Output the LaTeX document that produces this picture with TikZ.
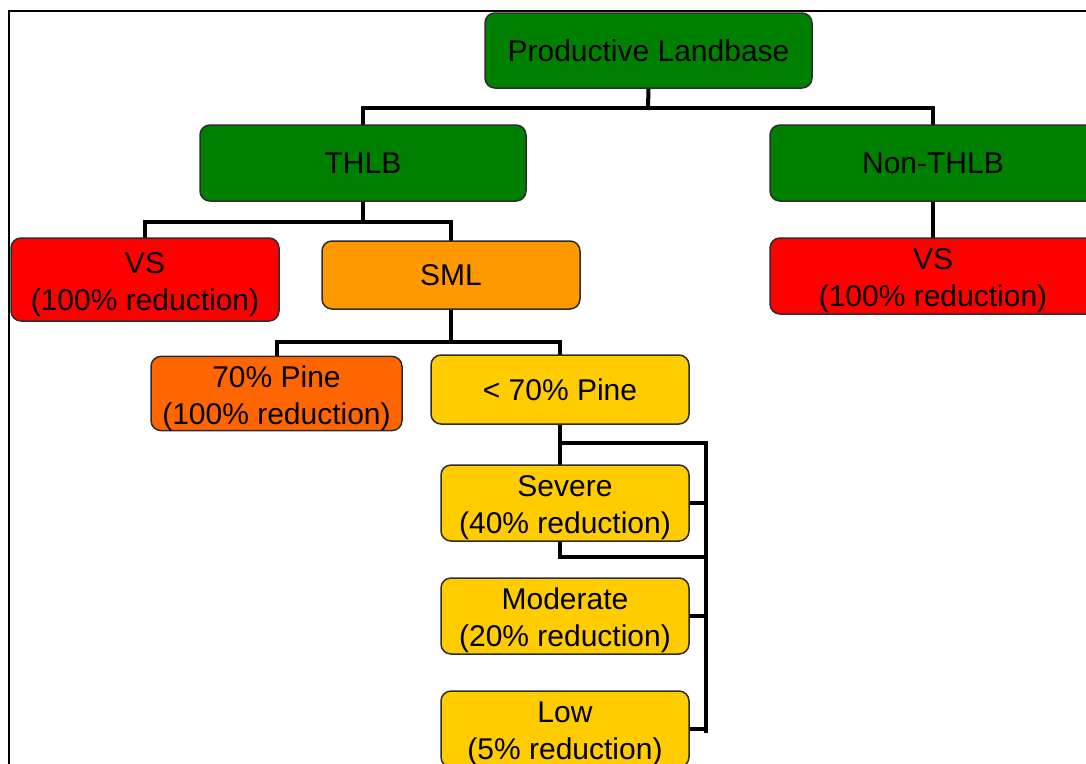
\documentclass[tikz,border=0pt]{standalone}
\usepackage{fontspec}
\setmainfont{Liberation Sans}
\usetikzlibrary{backgrounds}
\definecolor{lgreen}{RGB}{0,128,0}
\definecolor{lred}{RGB}{255,0,0}
\definecolor{lorange}{RGB}{255,153,0}
\definecolor{ldorange}{RGB}{255,102,0}
\definecolor{lyellow}{RGB}{255,204,0}
\definecolor{boxline}{RGB}{45,45,45}
\newcommand{\myfirststrut}{\rule{0pt}{31pt}}
\begin{document}
\begin{tikzpicture}[x=1pt,y=-1pt,
  box/.style={draw=boxline, line width=1.5pt, rounded corners=10pt, inner sep=0pt,
    align=center, font=\fontsize{30}{37}\selectfont},
  conn/.style={line width=4pt, line cap=rect, line join=miter}]
\useasboundingbox (0,0) rectangle (1086,763);
\begin{scope}
\clip (0,0) rectangle (1086,763);
\draw[line width=2pt] (9,780) -- (9,11) -- (1100,11);

\node[box, fill=lgreen, minimum width=327pt, minimum height=75pt] (root) at (648.5,50.5) {Productive Landbase};
\node[box, fill=lgreen, minimum width=326pt, minimum height=76pt] (thlb) at (363,163) {THLB};
\node[box, fill=lgreen, minimum width=326pt, minimum height=76pt] (nthlb) at (933,163) {Non-THLB};
\node[box, fill=lred, minimum width=268pt, minimum height=83pt] (vsl) at (145,279.5) {\myfirststrut VS\\(100\% reduction)};
\node[box, fill=lorange, minimum width=258pt, minimum height=68pt] (sml) at (451,275) {SML};
\node[box, fill=lred, minimum width=326pt, minimum height=76pt] (vsr) at (933,276) {\myfirststrut VS\\(100\% reduction)};
\node[box, fill=ldorange, minimum width=251pt, minimum height=73pt] (p70) at (276.5,393.5) {\myfirststrut 70\% Pine\\(100\% reduction)};
\node[box, fill=lyellow, minimum width=258pt, minimum height=69pt] (pl70) at (560,389.5) {< 70\% Pine};
\node[box, fill=lyellow, minimum width=248pt, minimum height=76pt] (sev) at (565,503) {\myfirststrut Severe\\(40\% reduction)};
\node[box, fill=lyellow, minimum width=248pt, minimum height=76pt] (mod) at (565,616) {\myfirststrut Moderate\\(20\% reduction)};
\node[box, fill=lyellow, minimum width=248pt, minimum height=76pt] (low) at (565,729) {\myfirststrut Low\\(5\% reduction)};

\begin{pgfonlayer}{background}
\coordinate (j1) at (648,108);
\coordinate (j2) at (363,222);
\coordinate (j3) at (451,342);
\coordinate (bt) at (706,443);
\coordinate (bm) at (706,557);
\coordinate (bb) at (706,731);
\draw[conn] (root.south) -- (j1);
\draw[conn] (j1) -| (thlb.north);
\draw[conn] (j1) -| (nthlb.north);
\draw[conn] (thlb.south) -- (j2);
\draw[conn] (j2) -| (vsl.north);
\draw[conn] (j2) -| (sml.north);
\draw[conn] (nthlb.south) -- (vsr.north);
\draw[conn] (sml.south) -- (j3);
\draw[conn] (j3) -| (p70.north);
\draw[conn] (j3) -| (pl70.north);
\draw[conn] (pl70.south) |- (bt) -- (bb);
\draw[conn] (pl70.south) -- (pl70.south |- sev.north);
\draw[conn] (sev.east) -- (sev.east -| bt);
\draw[conn] (pl70.south |- sev.south) |- (bm);
\draw[conn] (mod.east) -- (mod.east -| bt);
\draw[conn] (low.east) -- (low.east -| bt);
\end{pgfonlayer}
\end{scope}
\end{tikzpicture}
\end{document}
